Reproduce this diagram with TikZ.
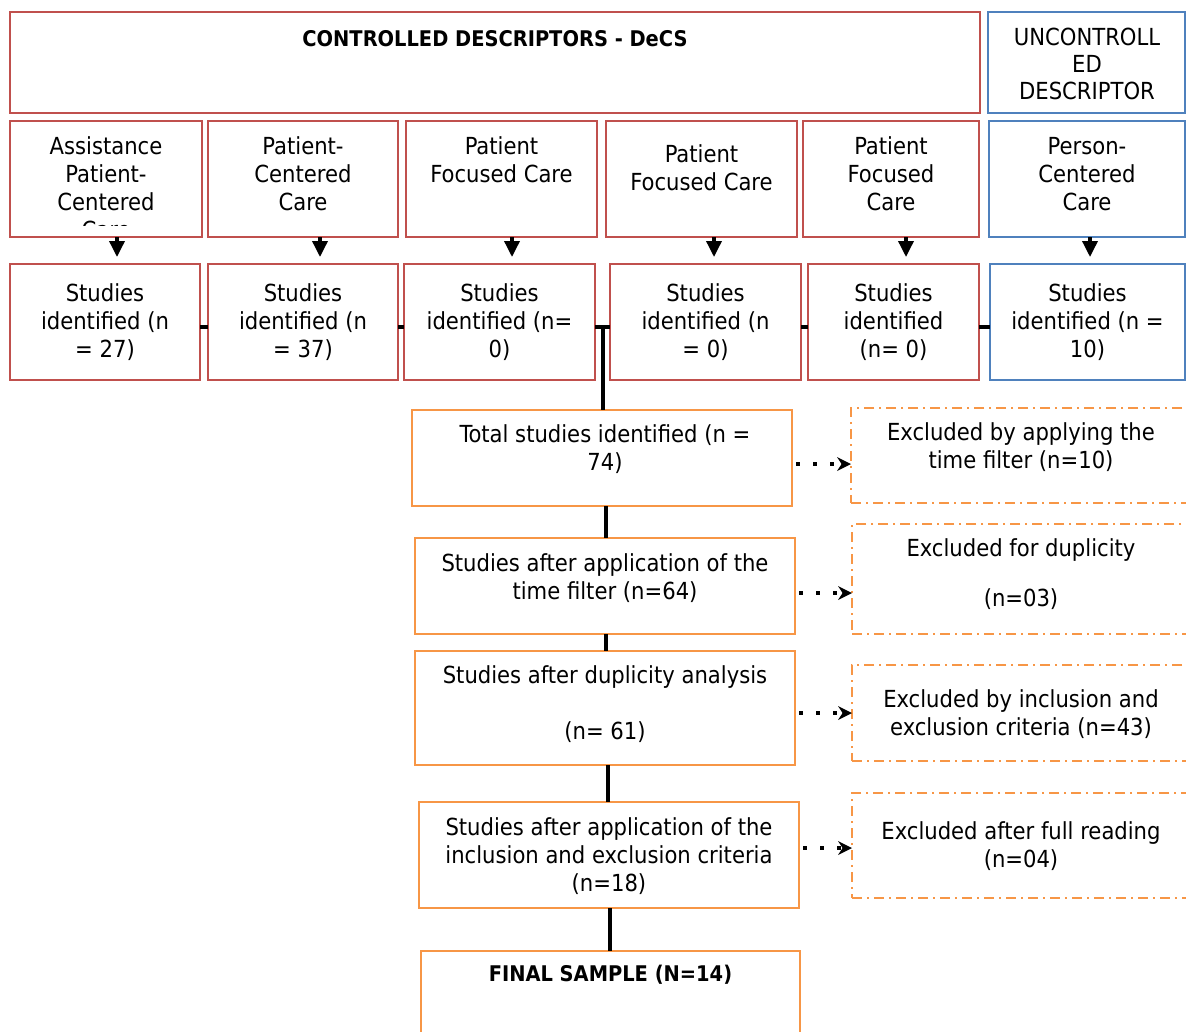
\documentclass[tikz,border=0pt]{standalone}
\usepackage{fontspec}
\setmainfont{DejaVu Sans Condensed}
\usetikzlibrary{arrows.meta}
\definecolor{cred}{HTML}{C0504D}
\definecolor{cblue}{HTML}{4F81BD}
\definecolor{corange}{HTML}{F79646}
\begin{document}
\begin{tikzpicture}[x=1pt,y=-1pt,
  bx/.style={draw, line width=2.2pt, inner sep=0pt, outer sep=0pt},
  redbox/.style={bx, cred},
  bluebox/.style={bx, cblue},
  orbox/.style={bx, corange},
  exbox/.style={draw=corange, line width=2pt, inner sep=0pt, outer sep=0pt,
    dash pattern=on 10pt off 5pt on 2pt off 5pt},
  txt/.style={align=center, inner sep=0pt, font=\fontsize{23.5}{28}\selectfont},
  btxt/.style={align=center, inner sep=0pt, font=\fontsize{21.6}{28}\selectfont\bfseries},
  conn/.style={line width=3.5pt, black},
  arr/.style={line width=3.5pt, black, -{Triangle[length=16pt,width=15pt]}, shorten >=7pt},
  dotarr/.style={line width=4pt, black, dash pattern=on 4pt off 13pt,
    -{Stealth[length=14pt,width=14pt,line width=0pt]}}
]
\useasboundingbox (0,0) rectangle (1186,1031);
\fill[white] (0,0) rectangle (1186,1031);

% header boxes
\node[redbox, minimum width=970pt, minimum height=101pt] (ctrl) at (495,62.5) {};
\node[btxt] (ctrlt) at (495,39) {CONTROLLED DESCRIPTORS - DeCS};
\node[bluebox, minimum width=197pt, minimum height=101pt] (unc) at (1086.5,62.5) {};
\node[txt, font=\fontsize{23.5}{27}\selectfont] (unct) at (1087,64) {UNCONTROLL\\ED\\DESCRIPTOR};

% row 2
\node[redbox, minimum width=192pt, minimum height=116pt] (a1) at (106,179) {};
\begin{scope}
\clip (12,123) rectangle (200,225);
\node[txt] (a1t) at (106,188) {Assistance\\Patient-\\Centered\\Care};
\end{scope}
\node[redbox, minimum width=190pt, minimum height=116pt] (a2) at (303,179) {};
\node[txt] (a2t) at (303,174) {Patient-\\Centered\\Care};
\node[redbox, minimum width=191pt, minimum height=116pt] (a3) at (501.5,179) {};
\node[txt] (a3t) at (501.5,160) {Patient\\Focused Care};
\node[redbox, minimum width=191pt, minimum height=116pt] (a4) at (701.5,179) {};
\node[txt] (a4t) at (701.5,168) {Patient\\Focused Care};
\node[redbox, minimum width=176pt, minimum height=116pt] (a5) at (891,179) {};
\node[txt] (a5t) at (891,174) {Patient\\Focused\\Care};
\node[bluebox, minimum width=196pt, minimum height=116pt] (a6) at (1087,179) {};
\node[txt] (a6t) at (1087,174) {Person-\\Centered\\Care};

% row 3
\node[redbox, minimum width=190pt, minimum height=116pt] (b1) at (105,322) {};
\node[txt] (b1t) at (105,322) {Studies\\identified (n\\= 27)};
\node[redbox, minimum width=190pt, minimum height=116pt] (b2) at (303,322) {};
\node[txt] (b2t) at (303,322) {Studies\\identified (n\\= 37)};
\node[redbox, minimum width=191pt, minimum height=116pt] (b3) at (499.5,322) {};
\node[txt] (b3t) at (499.5,322) {Studies\\identified (n=\\0)};
\node[redbox, minimum width=191pt, minimum height=116pt] (b4) at (705.5,322) {};
\node[txt] (b4t) at (705.5,322) {Studies\\identified (n\\= 0)};
\node[redbox, minimum width=171pt, minimum height=116pt] (b5) at (893.5,322) {};
\node[txt] (b5t) at (893.5,322) {Studies\\identified\\(n= 0)};
\node[bluebox, minimum width=195pt, minimum height=116pt] (b6) at (1087.5,322) {};
\node[txt] (b6t) at (1087.5,322) {Studies\\identified (n =\\10)};

% flow boxes
\node[orbox, minimum width=380pt, minimum height=96pt] (tot) at (602,458) {};
\node[txt] (tott) at (605,449.5) {Total studies identified (n =\\74)};
\node[orbox, minimum width=380pt, minimum height=96pt] (tf) at (605,586) {};
\node[txt] (tft) at (605,578) {Studies after application of the\\time filter (n=64)};
\node[orbox, minimum width=380pt, minimum height=114pt] (dup) at (605,708) {};
\node[txt] (dupt) at (605,704) {Studies after duplicity analysis\\[28pt](n= 61)};
\node[orbox, minimum width=380pt, minimum height=106pt] (inc) at (609,855) {};
\node[txt] (inct) at (609,856) {Studies after application of the\\inclusion and exclusion criteria\\(n=18)};
\node[orbox, minimum width=379pt, minimum height=94pt] (fin) at (610.5,998) {};
\node[btxt] (fint) at (610.5,975) {FINAL SAMPLE (N=14)};

% excluded boxes
\node[exbox, minimum width=349pt, minimum height=95pt] (e1) at (1025.5,455.5) {};
\node[txt] (e1t) at (1021,447) {Excluded by applying the\\time filter (n=10)};
\node[exbox, minimum width=348pt, minimum height=110pt] (e2) at (1026,579) {};
\node[txt] (e2t) at (1021,574) {Excluded for duplicity\\[22pt](n=03)};
\node[exbox, minimum width=348pt, minimum height=96pt] (e3) at (1026,713) {};
\node[txt] (e3t) at (1021,714) {Excluded by inclusion and\\exclusion criteria (n=43)};
\node[exbox, minimum width=348pt, minimum height=105pt] (e4) at (1026,845.5) {};
\node[txt] (e4t) at (1021,846) {Excluded after full reading\\(n=04)};

% arrows row 2 -> row 3
\draw[arr] ([xshift=11pt]a1.south) -- ([xshift=11pt]a1.south |- b1.north);
\draw[arr] ([xshift=17pt]a2.south) -- ([xshift=17pt]a2.south |- b2.north);
\draw[arr] ([xshift=10.5pt]a3.south) -- ([xshift=10.5pt]a3.south |- b3.north);
\draw[arr] ([xshift=12.5pt]a4.south) -- ([xshift=12.5pt]a4.south |- b4.north);
\draw[arr] ([xshift=15pt]a5.south) -- ([xshift=15pt]a5.south |- b5.north);
\draw[arr] ([xshift=3pt]a6.south) -- ([xshift=3pt]a6.south |- b6.north);

% row 3 links
\draw[conn] ([yshift=-5pt]b1.east) -- ([yshift=-5pt]b2.west);
\draw[conn] ([yshift=-5pt]b2.east) -- ([yshift=-5pt]b3.west);
\draw[conn] ([yshift=-5pt]b3.east) -- ([yshift=-5pt]b4.west);
\draw[conn] ([yshift=-5pt]b4.east) -- ([yshift=-5pt]b5.west);
\draw[conn] ([yshift=-5pt]b5.east) -- ([yshift=-5pt]b6.west);
\coordinate (j) at (603,327);
\draw[conn] (j) -- (j |- tot.north);

% flow links
\draw[conn] ([xshift=4pt]tot.south) -- ([xshift=4pt]tot.south |- tf.north);
\draw[conn] ([xshift=1pt]tf.south) -- ([xshift=1pt]tf.south |- dup.north);
\draw[conn] ([xshift=3pt]dup.south) -- ([xshift=3pt]dup.south |- inc.north);
\draw[conn] ([xshift=1pt]inc.south) -- ([xshift=1pt]inc.south |- fin.north);

% dotted arrows
\draw[dotarr] ([yshift=-6pt,xshift=4pt]tot.east) -- ([yshift=-6pt]tot.east -| e1.west);
\draw[dotarr] ([yshift=-7pt,xshift=4pt]tf.east) -- ([yshift=-7pt]tf.east -| e2.west);
\draw[dotarr] ([yshift=-5pt,xshift=4pt]dup.east) -- ([yshift=-5pt]dup.east -| e3.west);
\draw[dotarr] ([yshift=7pt,xshift=4pt]inc.east) -- ([yshift=7pt]inc.east -| e4.west);
\end{tikzpicture}
\end{document}
